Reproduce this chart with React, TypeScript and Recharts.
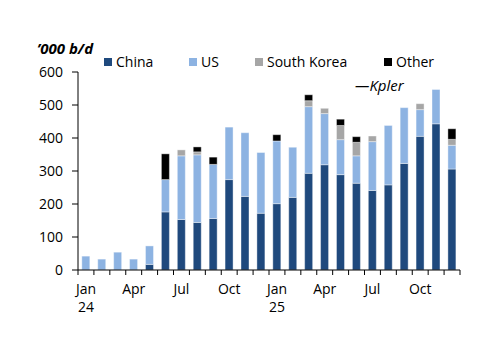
import React from "react";
import { Bar, BarChart, XAxis, YAxis } from "recharts";

const months = ["Jan", "Feb", "Mar", "Apr", "May", "Jun", "Jul", "Aug", "Sep", "Oct", "Nov", "Dec"];
const years = ["24", "25"];
const shownMonths = ["Jan", "Apr", "Jul", "Oct"];

const china = [0, 0, 0, 0, 17, 176, 153, 144, 156, 274, 223, 172, 201, 220, 293, 319, 289, 263, 241, 258, 323, 405, 443, 306];
const us = [42, 33, 54, 33, 56, 98, 193, 205, 164, 159, 193, 184, 190, 152, 202, 155, 106, 83, 148, 180, 169, 81, 104, 72];
const southKorea = [0, 0, 0, 0, 0, 0, 18, 9, 0, 0, 0, 0, 0, 0, 18, 16, 43, 41, 17, 0, 0, 18, 0, 18];
const other = [0, 0, 0, 0, 0, 78, 0, 15, 22, 0, 0, 0, 19, 0, 18, 0, 19, 17, 0, 0, 0, 0, 0, 32];

const yTicks = [0, 100, 200, 300, 400, 500, 600];

const series = [
  { key: "china", name: "China", color: "#1f497d" },
  { key: "us", name: "US", color: "#8db3e2" },
  { key: "southKorea", name: "South Korea", color: "#a6a6a6" },
  { key: "other", name: "Other", color: "#000000" },
];

const data = years.flatMap((yr, yi) =>
  months.map((m, mi) => {
    const i = yi * 12 + mi;
    return {
      month: m,
      year: yr,
      label: `${m} ${yr}`,
      china: china[i],
      us: us[i],
      southKorea: southKorea[i],
      other: other[i],
    };
  })
);

const W = 500;
const H = 353;
const margin = { top: 72, right: 40, bottom: 0, left: 0 };
const yAxisWidth = 78;
const xAxisHeight = 83;
const FONT = "'Open Sans', sans-serif";
const step = (W - margin.left - margin.right - yAxisWidth) / data.length;

function MonthTick(props: any) {
  const { x, y, index } = props;
  const d = data[index];
  const showMonth = shownMonths.includes(d.month);
  const last = index === data.length - 1;
  return (
    <g>
      <line x1={x - step / 2} x2={x - step / 2} y1={y} y2={y + 5} stroke="#000" />
      {last && <line x1={x + step / 2} x2={x + step / 2} y1={y} y2={y + 5} stroke="#000" />}
      {showMonth && (
        <text x={x} y={y + 24} textAnchor="middle" fontSize={14} fill="#000" fontFamily={FONT}>
          {d.month}
        </text>
      )}
      {d.month === "Jan" && (
        <text x={x} y={y + 42} textAnchor="middle" fontSize={14} fill="#000" fontFamily={FONT}>
          {d.year}
        </text>
      )}
    </g>
  );
}

const legendLeft = [104, 189, 255, 384];

function LegendRow() {
  return (
    <div style={{ position: "absolute", left: 0, top: 52, width: W, height: 20, fontFamily: FONT, fontSize: 14 }}>
      {series.map((s, i) => (
        <div
          key={s.key}
          style={{
            position: "absolute",
            left: legendLeft[i],
            top: 0,
            display: "flex",
            alignItems: "center",
            whiteSpace: "nowrap",
            color: "#000",
          }}
        >
          <span style={{ display: "inline-block", width: 8, height: 8, background: s.color, marginRight: 4 }} />
          <span>{s.name}</span>
        </div>
      ))}
    </div>
  );
}

export default function App() {
  return (
    <div style={{ position: "absolute", left: 0, top: 0, width: W, height: H, background: "#fff" }}>
      <BarChart
        width={W}
        height={H}
        data={data}
        margin={margin}
        barCategoryGap="24%"
        style={{ fontFamily: FONT }}
      >
        <XAxis
          dataKey="label"
          interval={0}
          tick={<MonthTick />}
          tickLine={false}
          tickSize={0}
          tickMargin={0}
          axisLine={{ stroke: "#000" }}
          height={xAxisHeight}
        />
        <YAxis
          domain={[0, 600]}
          ticks={yTicks}
          width={yAxisWidth}
          tickSize={6}
          tickMargin={9}
          axisLine={{ stroke: "#000" }}
          tickLine={{ stroke: "#000" }}
          tick={{ fill: "#000", fontSize: 14 }}
        />
        {series.map((s) => (
          <Bar
            key={s.key}
            dataKey={s.key}
            name={s.name}
            stackId="a"
            fill={s.color}
            stroke="#ffffff"
            strokeWidth={0.4}
            isAnimationActive={false}
          />
        ))}
      </BarChart>
      <LegendRow />
      <div
        style={{
          position: "absolute",
          left: 37,
          top: 38,
          fontFamily: FONT,
          fontSize: 15,
          fontWeight: 700,
          fontStyle: "italic",
          color: "#000",
          whiteSpace: "nowrap",
        }}
      >
        ’000 b/d
      </div>
      <div
        style={{
          position: "absolute",
          left: 355,
          top: 75,
          fontFamily: FONT,
          fontSize: 15,
          fontStyle: "italic",
          color: "#000",
          whiteSpace: "nowrap",
        }}
      >
        —Kpler
      </div>
    </div>
  );
}
